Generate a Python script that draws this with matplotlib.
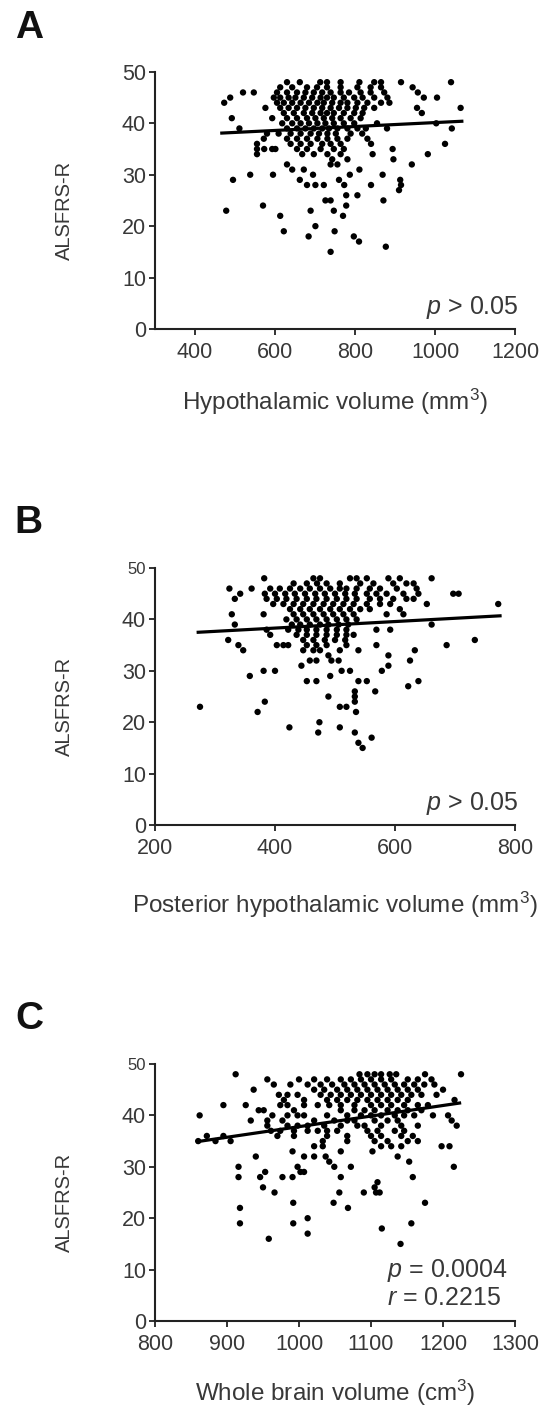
import matplotlib
matplotlib.use('Agg')
import matplotlib.pyplot as plt
import numpy as np

plt.rcParams['font.family'] = ['Liberation Sans', 'DejaVu Sans']
plt.rcParams['mathtext.fontset'] = 'custom'
plt.rcParams['mathtext.rm'] = 'Liberation Sans'
plt.rcParams['mathtext.it'] = 'Liberation Sans:italic'

# (volume, ALSFRS-R)
hyp_points = [
    (630, 48), (662, 48), (713, 48), (730, 48), (764, 48), (811, 48), (848, 48), (865, 48), (915, 48), (1040, 48),
    (613, 47), (643, 47), (680, 47), (705, 47), (730, 47), (764, 47), (806, 47), (839, 47), (865, 47), (944, 47),
    (520, 46), (547, 46), (605, 46), (630, 46), (655, 46), (676, 46), (697, 46), (718, 46), (739, 46), (764, 46),
    (785, 46), (814, 46), (839, 46), (873, 46), (957, 46),
    (488, 45), (597, 45), (613, 45), (634, 45), (651, 45), (672, 45), (693, 45), (714, 45), (730, 45), (747, 45),
    (772, 45), (798, 45), (819, 45), (848, 45), (881, 45), (972, 45), (1005, 45),
    (473, 44), (605, 44), (622, 44), (643, 44), (664, 44), (685, 44), (706, 44), (722, 44), (743, 44), (764, 44),
    (781, 44), (806, 44), (831, 44), (865, 44), (886, 44),
    (576, 43), (613, 43), (634, 43), (655, 43), (676, 43), (697, 43), (718, 43), (739, 43), (760, 43), (781, 43),
    (802, 43), (823, 43), (848, 43), (955, 43), (1064, 43),
    (622, 42), (647, 42), (672, 42), (693, 42), (714, 42), (730, 42), (747, 42), (772, 42), (798, 42), (819, 42), (967, 42),
    (492, 41), (593, 41), (630, 41), (655, 41), (680, 41), (701, 41), (722, 41), (743, 41), (764, 41), (789, 41), (814, 41),
    (618, 40), (643, 40), (664, 40), (685, 40), (706, 40), (726, 40), (747, 40), (772, 40), (798, 40), (855, 40), (1003, 40),
    (511, 39), (630, 39), (655, 39), (676, 39), (697, 39), (718, 39), (735, 39), (756, 39), (781, 39), (806, 39),
    (827, 39), (880, 39), (1042, 39),
    (580, 38), (609, 38), (639, 38), (664, 38), (689, 38), (710, 38), (731, 38), (752, 38), (789, 38), (818, 38),
    (572, 37), (630, 37), (655, 37), (680, 37), (706, 37), (731, 37), (756, 37), (781, 37), (831, 37),
    (555, 36), (639, 36), (664, 36), (689, 36), (718, 36), (739, 36), (764, 36), (840, 36), (1025, 36),
    (555, 35), (573, 35), (593, 35), (601, 35), (655, 35), (680, 35), (714, 35), (747, 35), (772, 35), (894, 35),
    (555, 34), (668, 34), (697, 34), (731, 34), (764, 34), (844, 34), (982, 34),
    (743, 33), (781, 33), (896, 33),
    (630, 32), (739, 32), (756, 32), (942, 32),
    (643, 31), (672, 31), (811, 31),
    (538, 30), (595, 30), (695, 30), (787, 30), (869, 30),
    (495, 29), (662, 29), (760, 29), (913, 29),
    (680, 28), (701, 28), (722, 28), (773, 28), (840, 28), (915, 28),
    (910, 27), (778, 26), (806, 26),
    (726, 25), (739, 25), (871, 25),
    (570, 24), (778, 24),
    (478, 23), (689, 23), (747, 23),
    (613, 22), (770, 22),
    (701, 20), (622, 19), (749, 19), (684, 18), (797, 18), (810, 17), (877, 16), (739, 15),
]

post_points = [
    (382, 48), (464, 48), (475, 48), (525, 48), (536, 48), (553, 48), (589, 48), (608, 48), (661, 48),
    (431, 47), (453, 47), (470, 47), (486, 47), (508, 47), (542, 47), (564, 47), (597, 47), (619, 47), (631, 47),
    (324, 46), (361, 46), (392, 46), (408, 46), (425, 46), (442, 46), (458, 46), (475, 46), (492, 46), (508, 46),
    (519, 46), (536, 46), (558, 46), (575, 46), (603, 46), (636, 46),
    (342, 45), (383, 45), (400, 45), (417, 45), (433, 45), (450, 45), (467, 45), (483, 45), (500, 45), (517, 45),
    (533, 45), (553, 45), (569, 45), (586, 45), (614, 45), (639, 45), (697, 45), (706, 45),
    (333, 44), (386, 44), (403, 44), (419, 44), (436, 44), (453, 44), (469, 44), (486, 44), (503, 44), (519, 44),
    (536, 44), (558, 44), (575, 44), (597, 44), (619, 44), (631, 44),
    (397, 43), (414, 43), (431, 43), (447, 43), (464, 43), (481, 43), (497, 43), (514, 43), (531, 43), (553, 43),
    (575, 43), (592, 43), (653, 43), (772, 43),
    (425, 42), (442, 42), (458, 42), (475, 42), (492, 42), (508, 42), (525, 42), (542, 42), (558, 42), (608, 42),
    (328, 41), (381, 41), (431, 41), (447, 41), (464, 41), (481, 41), (497, 41), (514, 41), (531, 41), (586, 41), (614, 41),
    (419, 40), (436, 40), (453, 40), (469, 40), (486, 40), (503, 40), (519, 40), (536, 40),
    (333, 39), (428, 39), (442, 39), (458, 39), (475, 39), (489, 39), (506, 39), (522, 39), (661, 39),
    (386, 38), (422, 38), (439, 38), (453, 38), (469, 38), (486, 38), (503, 38), (519, 38), (569, 38), (592, 38),
    (392, 37), (436, 37), (453, 37), (469, 37), (486, 37), (503, 37), (519, 37), (531, 37),
    (322, 36), (447, 36), (464, 36), (483, 36), (500, 36), (517, 36), (733, 36),
    (339, 35), (403, 35), (414, 35), (422, 35), (453, 35), (469, 35), (486, 35), (519, 35), (569, 35), (686, 35),
    (347, 34), (447, 34), (464, 34), (475, 34), (508, 34), (539, 34), (633, 34),
    (489, 33), (589, 33),
    (458, 32), (469, 32), (494, 32), (506, 32), (625, 32),
    (444, 31), (589, 31),
    (381, 30), (400, 30), (511, 30), (525, 30), (578, 30),
    (358, 29), (492, 29),
    (453, 28), (469, 28), (539, 28), (553, 28), (639, 28),
    (622, 27), (533, 26), (567, 26), (489, 25), (533, 25), (383, 24), (533, 24),
    (275, 23), (508, 23), (519, 23), (371, 22), (535, 22),
    (474, 20), (424, 19), (508, 19), (472, 18), (533, 18), (561, 17), (539, 16), (546, 15),
]

brain_points = [
    (912, 48), (1084, 48), (1095, 48), (1105, 48), (1114, 48), (1126, 48), (1135, 48), (1175, 48), (1225, 48),
    (956, 47), (1000, 47), (1021, 47), (1039, 47), (1058, 47), (1072, 47), (1086, 47), (1100, 47), (1114, 47),
    (1128, 47), (1151, 47), (1165, 47), (1184, 47),
    (965, 46), (988, 46), (1012, 46), (1030, 46), (1046, 46), (1063, 46), (1077, 46), (1091, 46), (1105, 46),
    (1119, 46), (1133, 46), (1146, 46), (1160, 46), (1174, 46), (1188, 46),
    (937, 45), (1021, 45), (1035, 45), (1053, 45), (1067, 45), (1081, 45), (1095, 45), (1109, 45), (1123, 45),
    (1137, 45), (1151, 45), (1165, 45), (1200, 45),
    (972, 44), (984, 44), (998, 44), (1030, 44), (1044, 44), (1058, 44), (1072, 44), (1086, 44), (1100, 44),
    (1114, 44), (1128, 44), (1142, 44), (1156, 44), (1170, 44), (1191, 44),
    (979, 43), (1007, 43), (1039, 43), (1053, 43), (1067, 43), (1081, 43), (1095, 43), (1109, 43), (1123, 43),
    (1137, 43), (1151, 43), (1216, 43),
    (895, 42), (926, 42), (974, 42), (984, 42), (1007, 42), (1026, 42), (1042, 42), (1058, 42), (1077, 42),
    (1100, 42), (1114, 42), (1128, 42), (1146, 42), (1165, 42), (1179, 42),
    (944, 41), (951, 41), (993, 41), (1058, 41), (1077, 41), (1091, 41), (1105, 41), (1123, 41), (1137, 41),
    (1151, 41), (1170, 41),
    (862, 40), (963, 40), (984, 40), (998, 40), (1007, 40), (1039, 40), (1067, 40), (1086, 40), (1100, 40),
    (1114, 40), (1133, 40), (1146, 40), (1160, 40), (1186, 40), (1207, 40),
    (933, 39), (956, 39), (977, 39), (1021, 39), (1049, 39), (1067, 39), (1077, 39), (1105, 39), (1123, 39),
    (1137, 39), (1212, 39),
    (956, 38), (984, 38), (998, 38), (1012, 38), (1035, 38), (1058, 38), (1081, 38), (1091, 38), (1114, 38),
    (1142, 38), (1165, 38), (1219, 38),
    (961, 37), (974, 37), (993, 37), (1012, 37), (1026, 37), (1039, 37), (1053, 37), (1095, 37), (1109, 37),
    (1133, 37), (1146, 37),
    (872, 36), (895, 36), (970, 36), (993, 36), (1039, 36), (1067, 36), (1100, 36), (1114, 36), (1142, 36), (1158, 36),
    (860, 35), (884, 35), (905, 35), (1033, 35), (1067, 35), (1105, 35), (1123, 35), (1151, 35), (1165, 35),
    (1021, 34), (1033, 34), (1114, 34), (1128, 34), (1142, 34), (1198, 34), (1209, 34),
    (991, 33), (1058, 33), (1102, 33),
    (940, 32), (1007, 32), (1021, 32), (1037, 32), (1137, 32),
    (1042, 31), (1153, 31),
    (916, 30), (998, 30), (1049, 30), (1072, 30), (1215, 30),
    (953, 29), (1002, 29), (1007, 29),
    (916, 28), (946, 28), (977, 28), (991, 28), (1058, 28), (1158, 28),
    (1109, 27), (950, 26), (1105, 26),
    (966, 25), (1056, 25), (1090, 25), (1107, 25), (1112, 25),
    (992, 23), (1048, 23), (1175, 23), (918, 22), (1068, 22),
    (1012, 20), (918, 19), (992, 19), (1156, 19), (1115, 18), (1012, 17), (958, 16), (1141, 15),
]

# regression line end points
hyp_fit_x, hyp_fit_y = [467, 1067], [38.1, 40.4]
post_fit_x, post_fit_y = [272, 775], [37.5, 40.7]
brain_fit_x, brain_fit_y = [859, 1223], [34.9, 42.4]

panels = [
    ('A', hyp_points, hyp_fit_x, hyp_fit_y, (300, 1200), [400, 600, 800, 1000, 1200],
     'Hypothalamic volume (mm$^3$)', ['$\\it{p}$ > 0.05']),
    ('B', post_points, post_fit_x, post_fit_y, (200, 800), [200, 400, 600, 800],
     'Posterior hypothalamic volume (mm$^3$)', ['$\\it{p}$ > 0.05']),
    ('C', brain_points, brain_fit_x, brain_fit_y, (800, 1300), [800, 900, 1000, 1100, 1200, 1300],
     'Whole brain volume (cm$^3$)', ['$\\it{p}$ = 0.0004', '$\\it{r}$ = 0.2215']),
]

txt = '#383838'
fig = plt.figure(figsize=(5.45, 14.07), dpi=100)
bottoms = [0.7662, 0.4136, 0.0611]
letter_y = [0.980, 0.628, 0.276]
xlab_y = [-0.225, -0.25, -0.22]

for i, (letter, pts, fx, fy, xlim, xt, xlab, notes) in enumerate(panels):
    ax = fig.add_axes([0.2844, bottoms[i], 0.6606, 0.1827])
    x = np.array([p[0] for p in pts])
    y = np.array([p[1] for p in pts])
    ax.scatter(x, y, s=21, color='black', edgecolors='none', zorder=3)
    ax.plot(fx, fy, color='black', lw=2.3, zorder=4)
    ax.set_xlim(xlim)
    ax.set_ylim(0, 50)
    ax.set_xticks(xt)
    ax.set_yticks([0, 10, 20, 30, 40, 50])
    for s in ['top', 'right']:
        ax.spines[s].set_visible(False)
    for s in ['left', 'bottom']:
        ax.spines[s].set_linewidth(1.5)
        ax.spines[s].set_color('#222222')
    ax.tick_params(axis='both', direction='out', length=4.5, width=1.3, color='#222222',
                   labelsize=15.5, labelcolor=txt)
    ax.tick_params(axis='y', pad=2)
    ax.tick_params(axis='x', pad=5)
    if i > 0:
        # top label printed smaller in the original panels B and C
        ax.get_yticklabels()[-1].set_fontsize(12)
    ax.set_ylabel('ALSFRS-R', fontsize=14.5, color=txt)
    ax.yaxis.set_label_coords(-0.225, 0.46)
    ax.set_xlabel(xlab, fontsize=17.5, color=txt)
    ax.xaxis.set_label_coords(0.5, xlab_y[i])
    if len(notes) == 1:
        ax.text(1.01, 0.085, notes[0], transform=ax.transAxes, ha='right', va='center',
                fontsize=18, color=txt)
    else:
        ax.text(0.644, 0.198, notes[0], transform=ax.transAxes, ha='left', va='center',
                fontsize=18, color=txt)
        ax.text(0.644, 0.089, notes[1], transform=ax.transAxes, ha='left', va='center',
                fontsize=18, color=txt)
    fig.text(0.053, letter_y[i], letter, fontsize=28, fontweight='bold', color='#111111',
             ha='center', va='center')

fig.savefig('out.png', dpi=100, facecolor='white')
